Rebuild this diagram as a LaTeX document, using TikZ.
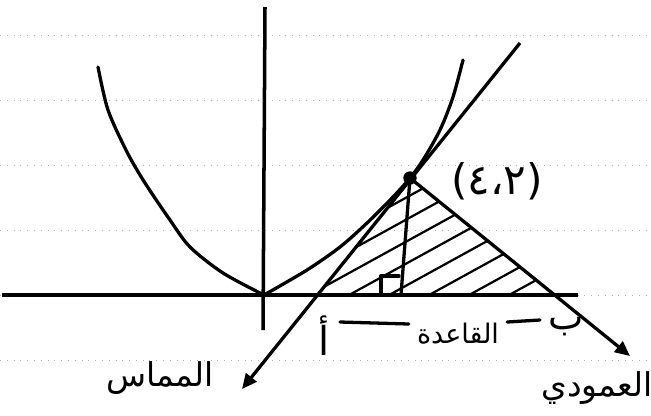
\documentclass[tikz,border=0pt]{standalone}
\usepackage{fontspec}
\usepackage{tikz}
\usetikzlibrary{arrows.meta,calc}
\newfontfamily\arabicfont[Script=Arabic]{DejaVu Sans}
\TeXXeTstate=1

\begin{document}
\begin{tikzpicture}[
    x=0.03cm, y=-0.03cm,
    curve/.style={line width=2.8pt, line cap=round, line join=round},
    axis/.style={line width=3pt},
    hatch/.style={line width=1.9pt, line cap=round},
    arr/.style={line width=2.8pt, -{Triangle[length=4.5mm, width=4mm]}},
    notebook/.style={gray!60, line width=0.8pt, dash pattern=on 0.8pt off 5pt},
    lbl/.style={font=\arabicfont\fontsize{28}{30}\selectfont, inner sep=0pt},
    dot/.style={circle, fill=black, inner sep=0pt, minimum size=0.4cm},
]
\useasboundingbox (0,0) rectangle (651,415);
\fill[white] (0,0) rectangle (651,415);

% notebook lines
\foreach \y in {35,100,165,230,295,360}
  \draw[notebook] (0,\y) -- (651,\y);

% points
\coordinate (O) at (264,295);
\coordinate (A) at (318,295);
\coordinate (B) at (552,295);
\coordinate (F) at (401,295);
\coordinate (tanTop) at (520,43);
\coordinate (tanEnd) at (242,389);
\coordinate (norEnd) at (630,356);

% hatching of the triangle
\begin{scope}
  \clip (A) -- (410,178) -- (B) -- cycle;
  \foreach \c in {190,212,...,440}
    \draw[hatch] (300,\c) -- (600,\c-165);
\end{scope}

% axes
\draw[axis] (2,295) -- (578,295);
\draw[axis] (265,7) -- (263,330);

% parabola
\draw[curve] plot[smooth] coordinates {(98,67) (108,110) (127,152) (145,183) (170,220) (190,247) (223,273) (264,295)};
\draw[curve] plot[smooth] coordinates {(264,295) (307,270) (340,247) (367,223) (393,197) (410,178) (423,160) (440,130) (453,97) (463,60)};

\node[dot] (P) at (410,178) {};

% tangent, normal, perpendicular
\draw[arr] (tanTop) -- (tanEnd);
\draw[arr] (P.center) -- (norEnd);
\draw[curve] (P.center) -- (F);
\draw[curve] (381,295) |- (399,276);

% labels
\node[lbl, font=\arabicfont\fontsize{36}{38}\selectfont] (lblP) at (497,181) {(٤،٢)};
\node[lbl, font=\arabicfont\fontsize{34}{36}\selectfont] (lblA) at (324,336) {\beginR أ\endR};
\node[lbl, font=\arabicfont\fontsize{32}{34}\selectfont] (lblB) at (566,327) {\beginR ب\endR};
\node[lbl, font=\arabicfont\fontsize{23}{25}\selectfont] (baseLbl) at (458,334) {\beginR القاعدة\endR};
\node[lbl] (tanLbl) at (160,378) {\beginR المماس\endR};
\node[lbl] (norLbl) at (597,388) {\beginR العمودي\endR};

% base marks
\coordinate (dimL) at (340,322);
\coordinate (dimR) at (540,320);
\draw[curve] (dimL) -- ($(baseLbl.west)+(-8,-10)$);
\draw[curve] ($(baseLbl.east)+(8,-12)$) -- (dimR);
\end{tikzpicture}
\end{document}
